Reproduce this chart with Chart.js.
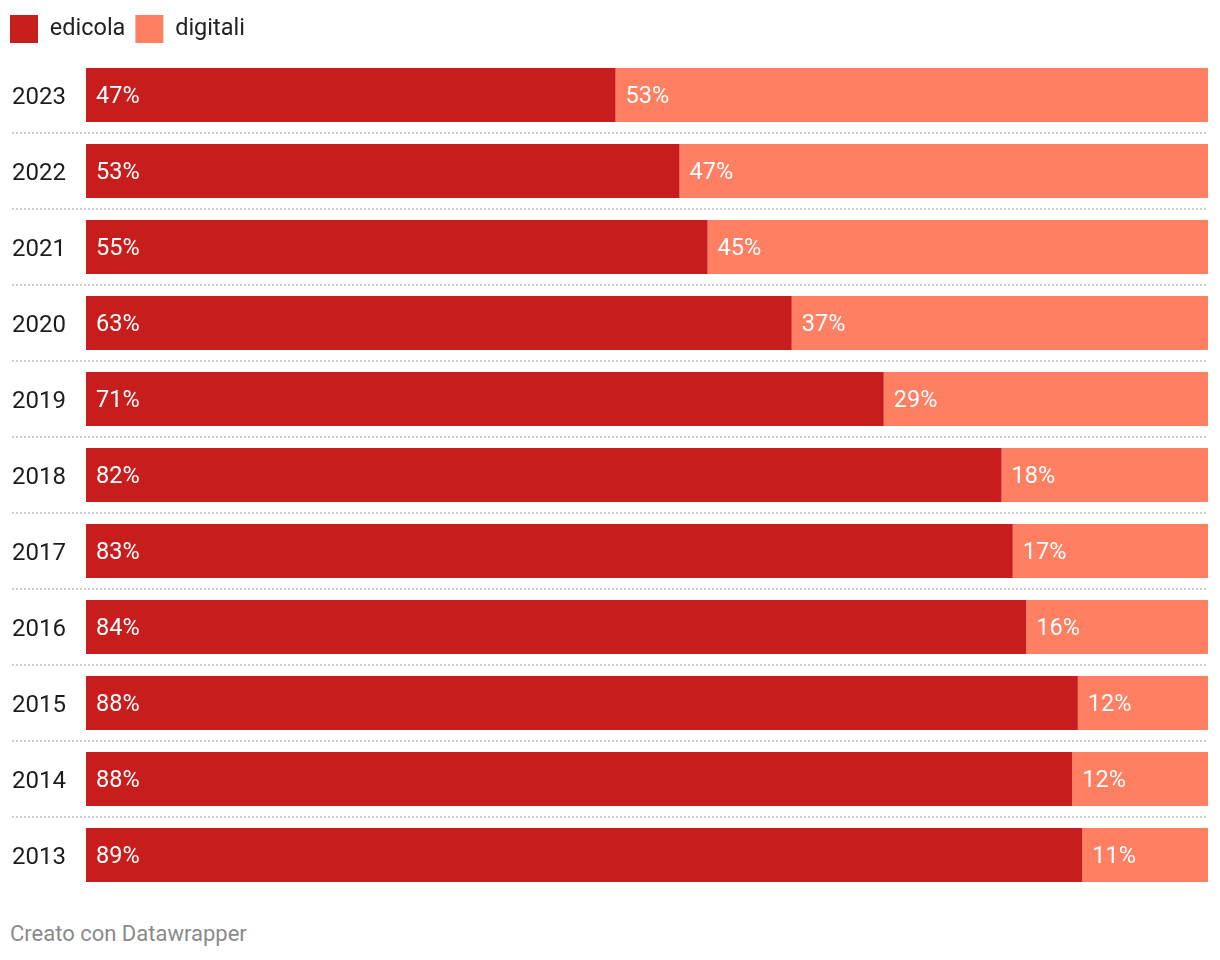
<!DOCTYPE html>
<html>
<head>
<meta charset="utf-8">
<script src="https://cdn.jsdelivr.net/npm/chart.js@4.4.0/dist/chart.umd.min.js"></script>
<style>
  body { margin: 0; background: #fff; font-family: Roboto, sans-serif; }
  #wrap { position: relative; width: 1220px; height: 900px; }
  #footer { position: absolute; left: 10px; top: 921px; font-size: 22px; color: #8a8a8a; }
</style>
</head>
<body>
<div id="wrap"><canvas id="press_chart" width="1220" height="900"></canvas></div>
<div id="footer">Creato con Datawrapper</div>
<script>
const years = ['2023', '2022', '2021', '2020', '2019', '2018', '2017', '2016', '2015', '2014', '2013'];
const edicola = [47.2, 52.9, 55.4, 62.9, 71.1, 81.6, 82.6, 83.8, 88.4, 87.9, 88.8];
const digitali = [52.8, 47.1, 44.6, 37.1, 28.9, 18.4, 17.4, 16.2, 11.6, 12.1, 11.2];

const press_chart = document.getElementById('press_chart');

// a bit more room under the legend
const legendGap = {
    id: 'legendGap',
    beforeInit(chart) {
        if (!chart.legend) return;
        const origFit = chart.legend.fit;
        chart.legend.fit = function () {
            origFit.bind(chart.legend)();
            this.height += 4;
        };
    }
};

// dotted separators between rows, from the year labels to the right edge
const rowLines = {
    id: 'rowLines',
    beforeDatasetsDraw(chart) {
        const ctx = chart.ctx;
        const y = chart.scales.y;
        ctx.save();
        ctx.strokeStyle = '#d0d0d0';
        ctx.lineWidth = 2;
        ctx.setLineDash([2, 2]);
        for (let i = 0; i < years.length - 1; i++) {
            const py = Math.round((y.getPixelForValue(i) + y.getPixelForValue(i + 1)) / 2);
            ctx.beginPath();
            ctx.moveTo(12, py);
            ctx.lineTo(chart.chartArea.right, py);
            ctx.stroke();
        }
        ctx.restore();
    }
};

// value labels inside the bars, left aligned
const barLabels = {
    id: 'barLabels',
    afterDatasetsDraw(chart) {
        const ctx = chart.ctx;
        ctx.save();
        ctx.font = '23.5px Roboto';
        ctx.fillStyle = '#ffffff';
        ctx.textAlign = 'left';
        ctx.textBaseline = 'middle';
        chart.data.datasets.forEach((ds, di) => {
            chart.getDatasetMeta(di).data.forEach((bar, i) => {
                const left = Math.min(bar.base, bar.x);
                ctx.fillText(Math.round(ds.data[i]) + '%', left + 10, bar.y + 2);
            });
        });
        ctx.restore();
    }
};

new Chart(press_chart, {
    type: 'bar',
    data: {
        labels: years,
        datasets: [{
            label: 'edicola',
            data: edicola,
            backgroundColor: '#c71e1d',
            borderWidth: 0
        }, {
            label: 'digitali',
            data: digitali,
            backgroundColor: '#ff7f63',
            borderWidth: 0
        }]
    },
    options: {
        responsive: false,
        animation: false,
        indexAxis: 'y',
        categoryPercentage: 1,
        barPercentage: 54 / 76,
        layout: {
            padding: { left: 0, right: 12, top: 5, bottom: 7 }
        },
        scales: {
            x: {
                stacked: true,
                display: false,
                min: 0,
                max: 100
            },
            y: {
                stacked: true,
                grid: { display: false, drawTicks: false },
                border: { display: false },
                afterFit(scale) {
                    scale.width = 86;
                    scale.paddingTop = 0;
                    scale.paddingBottom = 0;
                },
                ticks: {
                    crossAlign: 'center',
                    color: '#1d1d1d',
                    font: { family: 'Roboto', size: 24 },
                    padding: 20,
                    labelOffset: 3
                }
            }
        },
        plugins: {
            tooltip: { enabled: false },
            legend: {
                position: 'top',
                align: 'start',
                labels: {
                    boxWidth: 28,
                    boxHeight: 28,
                    padding: 10,
                    color: '#222222',
                    font: { family: 'Roboto', size: 23.5 }
                }
            }
        }
    },
    plugins: [legendGap, rowLines, barLabels]
});
</script>
</body>
</html>
